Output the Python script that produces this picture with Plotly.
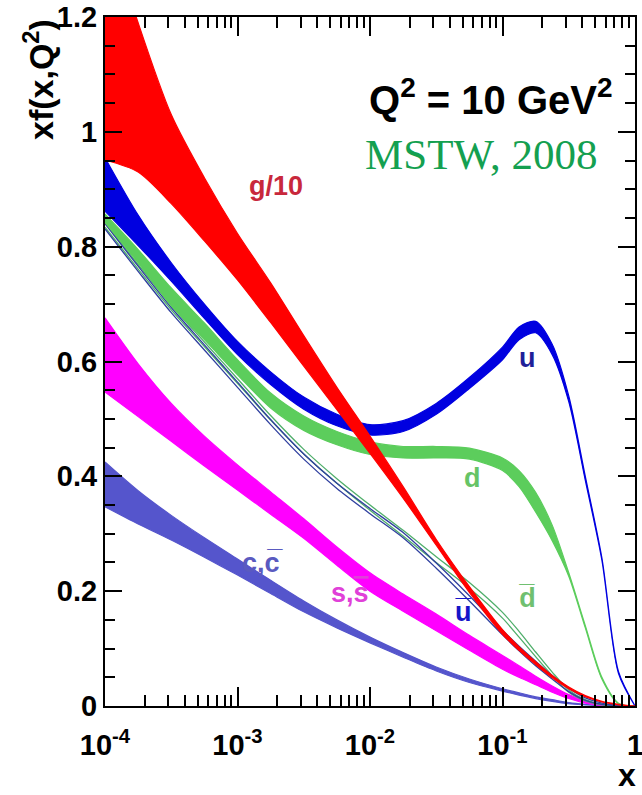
import plotly.graph_objects as go

# ---- data ----
LOG_X = [-4, -3.75, -3.5, -3.25, -3, -2.75, -2.5, -2.25, -2, -1.75, -1.5, -1.25,
         -1, -0.875, -0.75, -0.625, -0.5, -0.375, -0.25, -0.125, 0]

g_hi = [1.375, 1.19, 1.03, 0.92, 0.823, 0.737, 0.645, 0.555, 0.47, 0.382, 0.29, 0.208,
        0.133, 0.103, 0.077, 0.053, 0.033, 0.018, 0.008, 0.003, 0.0]
g_lo = [0.951, 0.93, 0.875, 0.81, 0.742, 0.668, 0.592, 0.516, 0.44, 0.362, 0.28, 0.198,
        0.125, 0.097, 0.072, 0.049, 0.03, 0.016, 0.007, 0.002, 0.0]

u_hi = [0.955, 0.855, 0.772, 0.7, 0.635, 0.582, 0.538, 0.508, 0.49, 0.497, 0.527, 0.572,
        0.625, 0.66, 0.67, 0.63, 0.54, 0.4, 0.258, 0.06, 0.0]
u_lo = [0.862, 0.802, 0.74, 0.675, 0.612, 0.56, 0.517, 0.488, 0.472, 0.478, 0.508, 0.553,
        0.603, 0.638, 0.65, 0.612, 0.53, 0.393, 0.254, 0.057, 0.0]

d_hi = [0.857, 0.795, 0.728, 0.667, 0.603, 0.545, 0.505, 0.478, 0.46, 0.452, 0.452, 0.449,
        0.432, 0.41, 0.372, 0.315, 0.232, 0.14, 0.05, 0.005, 0.0]
d_lo = [0.842, 0.772, 0.697, 0.638, 0.577, 0.519, 0.48, 0.455, 0.438, 0.432, 0.432, 0.43,
        0.41, 0.382, 0.338, 0.288, 0.226, 0.136, 0.047, 0.004, 0.0]

ubar_hi = [0.840, 0.766, 0.694, 0.629, 0.564, 0.499, 0.439, 0.388, 0.344, 0.302, 0.249, 0.192,
           0.132, 0.104, 0.078, 0.053, 0.031, 0.014, 0.005, 0.001, 0.0]
ubar_lo = [0.831, 0.757, 0.685, 0.620, 0.555, 0.490, 0.430, 0.379, 0.335, 0.293, 0.240, 0.183,
           0.124, 0.096, 0.070, 0.047, 0.025, 0.010, 0.003, 0.0005, 0.0]
dbar_hi = [0.842, 0.769, 0.698, 0.634, 0.570, 0.506, 0.447, 0.396, 0.350, 0.306, 0.260, 0.215,
           0.163, 0.130, 0.094, 0.059, 0.028, 0.011, 0.003, 0.001, 0.0]
dbar_lo = [0.834, 0.761, 0.690, 0.626, 0.562, 0.498, 0.439, 0.388, 0.341, 0.296, 0.250, 0.205,
           0.153, 0.120, 0.086, 0.053, 0.024, 0.009, 0.002, 0.0005, 0.0]

s_hi = [0.676, 0.596, 0.527, 0.47, 0.42, 0.373, 0.326, 0.277, 0.232, 0.195, 0.16, 0.123,
        0.088, 0.07, 0.052, 0.035, 0.02, 0.009, 0.003, 0.001, 0.0]
s_lo = [0.547, 0.504, 0.461, 0.418, 0.376, 0.334, 0.292, 0.245, 0.2, 0.165, 0.131, 0.097,
        0.064, 0.05, 0.037, 0.024, 0.013, 0.005, 0.001, 0.0, 0.0]

c_hi = [0.425, 0.375, 0.332, 0.293, 0.256, 0.219, 0.183, 0.15, 0.12, 0.093, 0.068, 0.047,
        0.03, 0.023, 0.016, 0.011, 0.006, 0.003, 0.001, 0.0003, 0.0]
c_lo = [0.347, 0.317, 0.289, 0.259, 0.228, 0.196, 0.164, 0.136, 0.11, 0.085, 0.061, 0.041,
        0.026, 0.019, 0.013, 0.008, 0.004, 0.002, 0.0005, 0.0001, 0.0]

X_TICKS = [1e-4, 1e-3, 1e-2, 1e-1, 1]
X_TICK_TEXT = ["10<sup>-4</sup>", "10<sup>-3</sup>", "10<sup>-2</sup>", "10<sup>-1</sup>", "1"]

X = [10 ** v for v in LOG_X]

fig = go.Figure()


def band(lo, hi, color, name):
    fig.add_trace(go.Scatter(
        x=X + X[::-1], y=hi + lo[::-1], fill="toself", fillcolor=color,
        line=dict(color=color, width=1.2, shape="spline", smoothing=0.8),
        mode="lines", name=name, hoverinfo="skip", showlegend=False))


def lines(lo, hi, color, name):
    for arr in (lo, hi):
        fig.add_trace(go.Scatter(
            x=X, y=arr, mode="lines", name=name, hoverinfo="skip", showlegend=False,
            line=dict(color=color, width=1.3, shape="spline", smoothing=0.8)))


band(c_lo, c_hi, "#5555cc", "c")
band(s_lo, s_hi, "#ff00ff", "s")
lines(dbar_lo, dbar_hi, "#4fae6a", "dbar")
lines(ubar_lo, ubar_hi, "#2f3f9f", "ubar")
band(d_lo, d_hi, "#5ccd5c", "d")
band(u_lo, u_hi, "#0000e0", "u")
band(g_lo, g_hi, "#ff0000", "g/10")

FONT = "Liberation Sans"


def label(lx, y, text, color, size=27):
    fig.add_annotation(x=lx, y=y, xref="x", yref="y", text=text, showarrow=False,
                       xanchor="center", yanchor="middle",
                       font=dict(family=FONT, size=size, color=color, weight="bold"))


label(-2.71, 0.905, "g/10", "#c8283c")
label(-0.815, 0.606, "u", "#1f1f99")
label(-1.223, 0.397, "d", "#66c466")
label(-1.298, 0.164, "u\u0305", "#1515c8")
label(-0.815, 0.188, "d\u0305", "#70c070")
label(-2.15, 0.197, "s,<span style='text-decoration:overline'>s</span>", "#e040d8")
label(-2.815, 0.249, "c,c\u0305", "#5a5ac0")

fig.add_annotation(x=-0.15, y=1.06, xref="x", yref="y", xanchor="right", yanchor="middle",
                   showarrow=False, text="Q<sup>2</sup> = 10 GeV<sup>2</sup>",
                   font=dict(family=FONT, size=40, color="black", weight="bold"))
fig.add_annotation(x=-1.155, y=0.96, xref="x", yref="y", xanchor="center", yanchor="middle",
                   showarrow=False, text="MSTW, 2008",
                   font=dict(family="Liberation Serif", size=43, color="#14a050"))

W, H = 642, 795
L, R, T, B = 105, 7, 17, 89


def px_to_paper(px, py):
    return (px - L) / (W - L - R), (H - B - py) / (H - T - B)


tx, ty = px_to_paper(38, 80)
fig.add_annotation(x=tx, y=ty, xref="paper", yref="paper", showarrow=False,
                   xanchor="center", yanchor="middle",
                   text="xf(x,Q<sup>2</sup>)", textangle=-90,
                   font=dict(family=FONT, size=34, color="black", weight="bold"))
tx, ty = px_to_paper(627, 775)
fig.add_annotation(x=tx, y=ty, xref="paper", yref="paper", showarrow=False,
                   xanchor="center", yanchor="middle", text="x",
                   font=dict(family=FONT, size=32, color="black", weight="bold"))

minor_x = [k * 10 ** e for e in range(-4, 0) for k in range(2, 10)]

fig.update_layout(
    width=W, height=H, margin=dict(l=L, r=R, t=T, b=B, autoexpand=False),
    paper_bgcolor="white", plot_bgcolor="white",
    xaxis=dict(type="log", range=[-4, 0], tickvals=X_TICKS, ticktext=X_TICK_TEXT,
               ticks="inside", ticklen=19, tickwidth=2, tickcolor="black",
               showline=True, linecolor="black", linewidth=2, mirror="ticks",
               showgrid=False, zeroline=False, ticklabelstandoff=12, automargin=False,
               ticklabeloverflow="allow",
               tickfont=dict(family=FONT, size=29, color="black", weight="bold"),
               minor=dict(tickvals=minor_x, ticks="inside", ticklen=11, tickwidth=1.5,
                          tickcolor="black", showgrid=False)),
    yaxis=dict(range=[0, 1.2], dtick=0.2, tick0=0, automargin=False,
               ticks="inside", ticklen=17, tickwidth=2, tickcolor="black",
               showline=True, linecolor="black", linewidth=2, mirror="ticks",
               showgrid=False, zeroline=False, ticklabeloverflow="allow",
               tickfont=dict(family=FONT, size=29, color="black", weight="bold"),
               minor=dict(dtick=0.05, ticks="inside", ticklen=10, tickwidth=1.5,
                          tickcolor="black", showgrid=False)),
)

# remove the browser's default 8px body margin so the figure sits at the page corner
fig.write_html("out.html", config={"displayModeBar": False},
               post_script="document.body.style.margin='0px';")
